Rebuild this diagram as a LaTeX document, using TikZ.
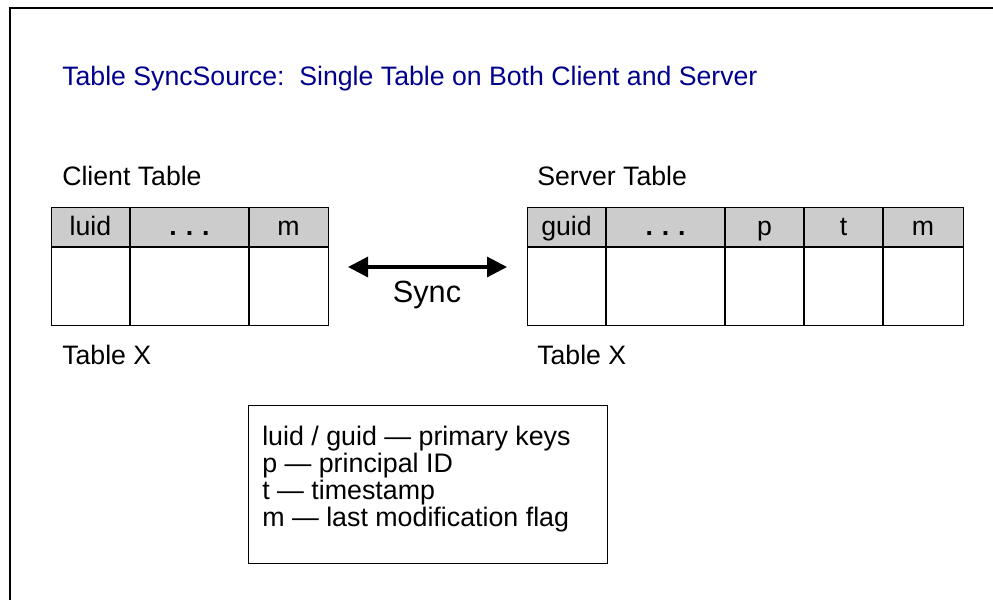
\documentclass[tikz,border=0pt]{standalone}
\usepackage{fontspec}
\setmainfont{Liberation Sans}
\usetikzlibrary{arrows.meta}
\definecolor{titleblue}{RGB}{0,0,140}
\definecolor{headgray}{RGB}{204,204,204}
\tikzset{
  label text/.style={anchor=west, inner sep=0pt, font=\fontsize{20}{20}\selectfont},
  head text/.style={anchor=base, inner sep=0pt, font=\fontsize{20}{20}\selectfont},
  outline/.style={draw=black, line width=0.7pt},
  divider/.style={draw=black, line width=1.4pt},
  sync arrow/.style={line width=2.3pt, {Triangle[length=15pt,width=15pt]}-{Triangle[length=15pt,width=15pt]}},
}
\begin{document}
\begin{tikzpicture}[x=0.75pt,y=-0.75pt]
\useasboundingbox (0,0) rectangle (993,600);
% frame
\draw[line width=2.2pt] (10,600) -- (10,8) -- (993,8);
\node[label text, titleblue] (title) at (62,79) {Table SyncSource:\ \ Single Table on Both Client and Server};
% client table
\node[label text] (clientname) at (62,176) {Client Table};
\fill[headgray] (51,207) rectangle (328,247);
\draw[divider] (51,247) -- (328,247); \draw[divider] (130,207) -- (130,325); \draw[divider] (249,207) -- (249,325);
\draw[outline] (51,207) rectangle (328,325);
\node[head text] (cluid) at (90.5,235) {luid}; \node[head text] (cdots) at (189.5,235) {\textbf{.\,\,.\,\,.}}; \node[head text] (cm) at (288.5,235) {m};
\node[label text] (clientx) at (62,355) {Table X};
% server table
\node[label text] (servername) at (537,176) {Server Table};
\fill[headgray] (527,207) rectangle (963,247);
\draw[divider] (527,247) -- (963,247); \draw[divider] (606,207) -- (606,325); \draw[divider] (725,207) -- (725,325); \draw[divider] (804,207) -- (804,325); \draw[divider] (883,207) -- (883,325);
\draw[outline] (527,207) rectangle (963,325);
\node[head text] (sguid) at (566.5,235) {guid}; \node[head text] (sdots) at (665.5,235) {\textbf{.\,\,.\,\,.}}; \node[head text] (sp) at (764.5,235) {p}; \node[head text] (st) at (843.5,235) {t}; \node[head text] (sm) at (923,235) {m};
\node[label text] (serverx) at (537,355) {Table X};
% sync
\coordinate (syncleft) at (348,267); \coordinate (syncright) at (507,267);
\draw[sync arrow] (syncleft) -- (syncright);
\node[font=\fontsize{23}{24}\selectfont] (sync) at (427,295) {Sync};
% legend
\draw[outline] (248,405) rectangle (607,563);
\node[label text, align=left, font=\fontsize{20.1}{20.2}\selectfont] (legend) at (262,479) {luid / guid --- primary keys\\p --- principal ID\\t --- timestamp\\m --- last modification flag};
\end{tikzpicture}
\end{document}
